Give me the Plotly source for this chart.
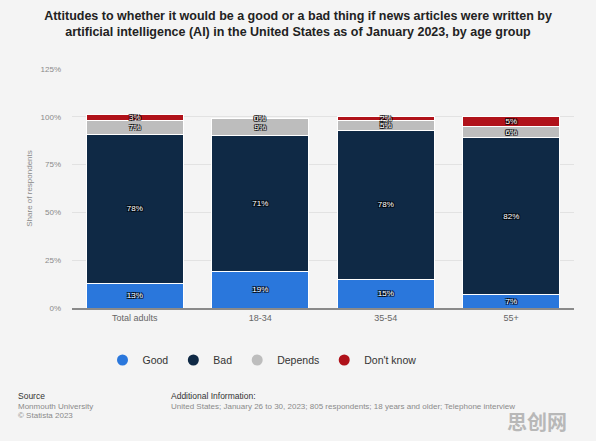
import plotly.graph_objects as go

categories = ["Total adults", "18-34", "35-54", "55+"]
good = [13, 19, 15, 7]
bad = [78, 71, 78, 82]
depends = [7, 9, 5, 6]
dont_know = [3, 0, 2, 5]
series_names = ["Good", "Bad", "Depends", "Don't know"]
series_colors = ["#2a77dc", "#0f2945", "#bdbdbd", "#b0121a"]
y_ticks = [0, 25, 50, 75, 100, 125]

W, H = 596, 441
L, R, T, B = 72, 22, 69, 133
pw = W - L - R
ph = H - T - B

def px_x(px):
    return (px - L) / pw

def px_y(py):
    return (H - B - py) / ph

fig = go.Figure()
shadow = "1px 1px 0px #000, -1px -1px 0px #000, 1px -1px 0px #000, -1px 1px 0px #000"
label_font = dict(family="Liberation Sans, Arial", size=8, color="white", shadow=shadow)
all_series = [good, bad, depends, dont_know]
for name, vals, col in zip(series_names, all_series, series_colors):
    fig.add_trace(go.Bar(
        x=categories, y=vals, name=name,
        marker=dict(color=col, line=dict(color="white", width=1)),
        text=[f"{v}%" for v in vals], textposition="inside",
        insidetextanchor="middle", constraintext="none",
        textfont=label_font,
        showlegend=False, hoverinfo="skip",
    ))
    fig.add_trace(go.Scatter(
        x=[None], y=[None], mode="markers", name=name,
        marker=dict(color=col, size=11, symbol="circle"),
    ))

# labels for zero-valued segments (plotly hides text of empty bars)
for i, cat in enumerate(categories):
    cum = 0
    for vals in all_series:
        cum += vals[i]
        if vals[i] == 0:
            fig.add_annotation(x=cat, y=cum, text=f"{vals[i]}%", showarrow=False,
                               yanchor="middle", font=label_font)

fig.update_layout(
    width=W, height=H,
    barmode="stack", bargap=0.227,
    paper_bgcolor="#f4f4f4", plot_bgcolor="#f4f4f4",
    margin=dict(l=L, r=R, t=T, b=B, pad=0),
    uniformtext=dict(mode="show", minsize=8),
    title=dict(
        text="Attitudes to whether it would be a good or a bad thing if news articles were written by<br>artificial intelligence (AI) in the United States as of January 2023, by age group",
        x=0.5, xref="container", xanchor="center", y=0.955, yanchor="middle",
        font=dict(family="Liberation Sans, Arial", size=12.5, color="#222222", weight="bold"),
    ),
    font=dict(family="Liberation Sans, Arial"),
    legend=dict(
        orientation="h", x=px_x(262), xanchor="center", y=px_y(360), yanchor="middle",
        font=dict(size=10.5, color="#333333"), bgcolor="rgba(0,0,0,0)",
        itemwidth=30, tracegroupgap=0, traceorder="normal",
    ),
    xaxis=dict(
        showgrid=False, showline=True, linecolor="#8a8a8a", linewidth=1.5,
        ticks="", tickfont=dict(size=9, color="#666666"), fixedrange=True,
    ),
    yaxis=dict(
        range=[0, 125], tickvals=y_ticks, ticktext=[f"{v}%" for v in y_ticks],
        showgrid=True, gridcolor="#e2e2e2", gridwidth=1, zeroline=False,
        tickfont=dict(size=8, color="#8a8a8a"), ticks="", ticklabelstandoff=10,
        title=dict(text="Share of respondents", font=dict(size=8, color="#8a8a8a"), standoff=6),
    ),
)

annos = [
    dict(text="Source", x=px_x(16), y=px_y(396), size=8.5, color="#333333"),
    dict(text="Monmouth University", x=px_x(16), y=px_y(406), size=8, color="#8a8a8a"),
    dict(text="© Statista 2023", x=px_x(16), y=px_y(415), size=8, color="#8a8a8a"),
    dict(text="Additional Information:", x=px_x(169), y=px_y(396), size=8.5, color="#333333"),
    dict(text="United States; January 26 to 30, 2023; 805 respondents; 18 years and older; Telephone interview",
         x=px_x(169), y=px_y(406), size=8, color="#8a8a8a"),
]
for a in annos:
    fig.add_annotation(text=a["text"], x=a["x"], y=a["y"], xref="paper", yref="paper",
                       xanchor="left", yanchor="middle", showarrow=False,
                       font=dict(size=a["size"], color=a["color"]))
fig.add_annotation(text="思创网", x=px_x(569), y=px_y(421), xref="paper", yref="paper",
                   xanchor="right", yanchor="middle", showarrow=False,
                   font=dict(family="Noto Sans CJK SC", size=20, color="#b8b8b8", weight="bold"))

fig.write_html("out.html")
